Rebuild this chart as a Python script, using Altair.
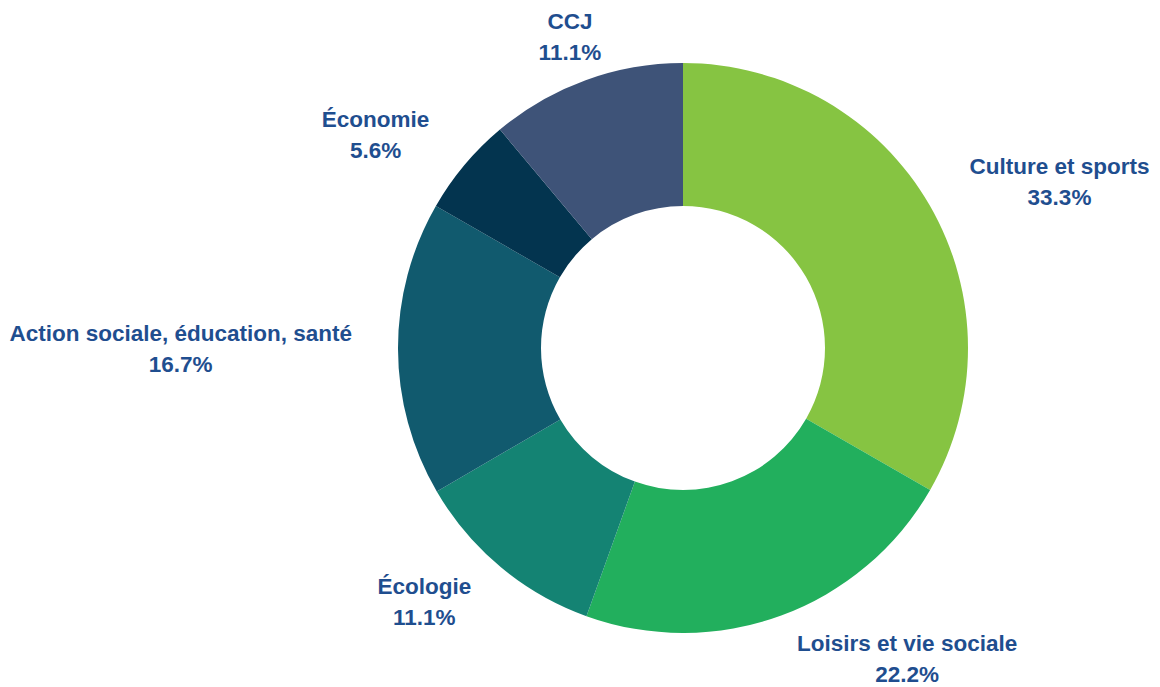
import math
import altair as alt
import pandas as pd

categories = ["Culture et sports", "Loisirs et vie sociale", "Écologie",
              "Action sociale, éducation, santé", "Économie", "CCJ"]
values = [33.3, 22.2, 11.1, 16.7, 5.6, 11.1]
colors = ["#86C442", "#22AF5D", "#148373", "#115A6E", "#03344F", "#3E5378"]

FONT_SIZE = 22.5
# Liberation Sans Bold advance widths (per 1000 em) for text-width estimation
W = {" ": 278, ",": 278, ".": 278, "%": 889, "A": 722, "C": 722, "E": 667,
     "É": 667, "J": 556, "L": 611, "a": 556, "c": 556, "d": 611, "e": 556,
     "é": 556, "g": 611, "i": 278, "l": 278, "m": 889, "n": 611, "o": 611,
     "p": 611, "r": 389, "s": 556, "t": 333, "u": 611, "v": 556}
for d in "0123456789":
    W[d] = 556


def text_w(s):
    return sum(W.get(ch, 556) for ch in s) * FONT_SIZE / 1000


total = sum(values)
labels, shifts = [], []
cum = 0.0
for c, v in zip(categories, values):
    mid = (cum + v / 2) / total * 360
    cum += v
    s = math.sin(math.radians(mid))
    pct = f"{v:.1f}%"
    labels.append(f"{c}\n{pct}")
    w = max(text_w(c), text_w(pct))
    if abs(s) < 0.35 and math.cos(math.radians(mid)) > 0:
        side = 0
    elif s >= 0:
        side = 1
    else:
        side = -1
    shifts.append(side * w / 2)

df = pd.DataFrame({
    "cat": categories,
    "val": values,
    "order": list(range(len(categories))),
    "label": labels,
    "shift": shifts,
})

CX, CY = 675, 340

arc = alt.Chart(df).mark_arc(outerRadius=285, innerRadius=142, stroke=None).encode(
    theta=alt.Theta("val:Q", stack=True),
    order=alt.Order("order:Q"),
    x=alt.value(CX),
    y=alt.value(CY),
    color=alt.Color("cat:N", scale=alt.Scale(domain=categories, range=colors), legend=None),
)

text = alt.Chart(df).transform_window(
    cum="sum(val)", sort=[alt.SortField("order")]
).transform_joinaggregate(
    tot="sum(val)"
).transform_calculate(
    mid="(datum.cum - datum.val / 2) / datum.tot * 2 * PI",
    px=f"{CX} + datum.shift",
).mark_text(
    radius=331, align="center", baseline="middle", lineBreak="\n",
    font="Liberation Sans", fontSize=FONT_SIZE, fontWeight="bold",
    color="#1F4E8F", lineHeight=31, dy=-15
).encode(
    theta=alt.Theta("mid:Q", scale=None),
    x=alt.X("px:Q", scale=None),
    y=alt.value(CY),
    text="label:N",
)

chart = alt.layer(arc, text).properties(
    width=1144, height=679, padding=0, autosize="none"
).configure_view(stroke=None)

chart.save("out.html", embed_options={"renderer": "svg", "actions": False})
